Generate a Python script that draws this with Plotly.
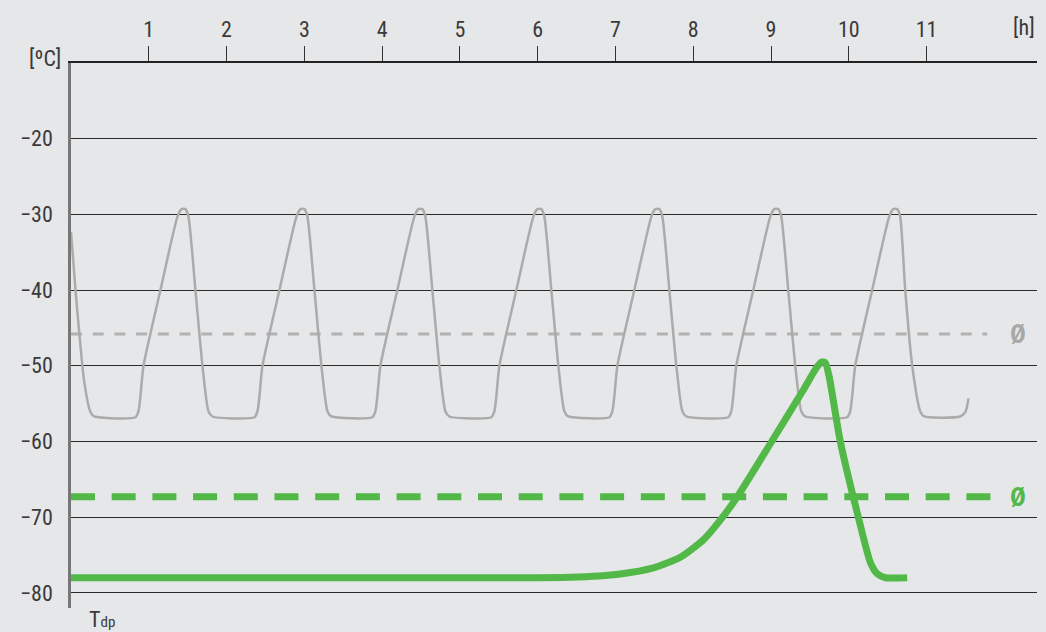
import plotly.graph_objects as go

# ---- data (hours, °C) ----
cycle_hours = [0.000, 0.058, 0.169, 0.246, 0.298,
               0.829, 0.868, 0.893, 0.932, 1.150, 1.369, 1.420, 1.472, 1.510, 1.600, 1.690, 1.767, 1.819,
               2.359, 2.398, 2.423, 2.462, 2.680, 2.899, 2.950, 3.002, 3.040, 3.130, 3.220, 3.297, 3.349,
               3.875, 3.914, 3.939, 3.978, 4.196, 4.415, 4.466, 4.518, 4.556, 4.646, 4.736, 4.813, 4.865,
               5.405, 5.444, 5.469, 5.508, 5.726, 5.945, 5.996, 6.048, 6.086, 6.176, 6.266, 6.343, 6.395,
               6.922, 6.961, 6.986, 7.025, 7.243, 7.462, 7.513, 7.565, 7.603, 7.693, 7.783, 7.860, 7.912,
               8.451, 8.490, 8.515, 8.554, 8.772, 8.991, 9.042, 9.094, 9.132, 9.222, 9.312, 9.389, 9.441,
               9.980, 10.019, 10.044, 10.083, 10.301, 10.520, 10.571, 10.623, 10.661, 10.726, 10.816, 10.918, 10.970,
               11.430, 11.500, 11.540]
cycle_temps = ([-32.3, -40.0, -52.0, -56.0, -56.7]
               + [-56.8, -56.0, -54.0, -50.0, -40.0, -30.3, -29.3, -29.3, -30.3, -40.0, -50.0, -56.0, -56.7]
               + [-56.8, -56.0, -54.0, -50.0, -40.0, -30.3, -29.3, -29.3, -30.3, -40.0, -50.0, -56.0, -56.7]
               + [-56.8, -56.0, -54.0, -50.0, -40.0, -30.3, -29.3, -29.3, -30.3, -40.0, -50.0, -56.0, -56.7]
               + [-56.8, -56.0, -54.0, -50.0, -40.0, -30.3, -29.3, -29.3, -30.3, -40.0, -50.0, -56.0, -56.7]
               + [-56.8, -56.0, -54.0, -50.0, -40.0, -30.3, -29.3, -29.3, -30.3, -40.0, -50.0, -56.0, -56.7]
               + [-56.8, -56.0, -54.0, -50.0, -40.0, -30.3, -29.3, -29.3, -30.3, -40.0, -50.0, -56.0, -56.7]
               + [-56.8, -56.0, -54.0, -50.0, -40.0, -30.3, -29.3, -29.3, -30.3, -40.0, -50.0, -56.0, -56.7]
               + [-56.7, -56.1, -54.3])

dryer_hours = [0.0, 5.906, 6.420, 7.063, 7.487, 7.834, 8.130, 8.348, 8.567, 8.991, 9.415, 9.582,
               9.647, 9.698, 9.749, 9.891, 10.123, 10.278, 10.368, 10.470, 10.751]
dryer_temps = [-78.0, -78.0, -77.95, -77.5, -76.7, -75.3, -73.0, -70.4, -67.3, -60.3, -53.2, -50.3,
               -49.5, -49.6, -51.5, -60.0, -70.0, -76.0, -77.5, -78.0, -78.0]

cycle_mean = -45.8
cycle_mean_span = [0.0, 11.78]
dryer_mean = -67.3
dryer_mean_span = [0.0, 11.86]

x_ticks = [1, 2, 3, 4, 5, 6, 7, 8, 9, 10, 11]
y_ticks = [-20, -30, -40, -50, -60, -70, -80]

GRAY = "#ababab"
GREEN = "#52b848"
BG = "#e6e7e9"
TXT = "#3a3a3a"
FONT = "Liberation Sans Narrow, Roboto Condensed, Roboto, sans-serif"

fig = go.Figure()
fig.add_trace(go.Scatter(x=cycle_mean_span, y=[cycle_mean, cycle_mean], mode="lines",
                         line=dict(color="#b2b2b2", width=3, dash="11px,10.7px"), hoverinfo="skip"))
fig.add_trace(go.Scatter(x=cycle_hours, y=cycle_temps, mode="lines",
                         line=dict(color=GRAY, width=2.5, shape="spline", smoothing=0.6), hoverinfo="skip"))
fig.add_trace(go.Scatter(x=dryer_mean_span, y=[dryer_mean, dryer_mean], mode="lines",
                         line=dict(color=GREEN, width=7, dash="24px,16.7px"), hoverinfo="skip"))
fig.add_trace(go.Scatter(x=dryer_hours, y=dryer_temps, mode="lines",
                         line=dict(color=GREEN, width=7, shape="spline", smoothing=0.6), hoverinfo="skip"))

fig.update_layout(
    width=1046, height=632,
    margin=dict(l=71, r=9, t=63, b=24),
    paper_bgcolor=BG, plot_bgcolor=BG,
    showlegend=False,
    font=dict(family=FONT, size=22, color=TXT),
    xaxis=dict(side="top", range=[0, 12.42], tickvals=x_ticks, ticks="outside", ticklen=15,
               tickcolor="#333333", tickwidth=1.2, showgrid=False, zeroline=False,
               showline=True, linecolor="#222222", linewidth=1.5,
               tickfont=dict(family=FONT, size=22, color=TXT)),
    yaxis=dict(range=[-82, -10], tickvals=y_ticks, ticks="", showgrid=True,
               gridcolor="#2a2a2a", gridwidth=1.2, zeroline=False,
               showline=True, linecolor="#777777", linewidth=2.5, ticklabelstandoff=11,
               tickfont=dict(family=FONT, size=22, color=TXT)),
)

fig.add_annotation(x=12.18, y=cycle_mean, xref="x", yref="y", text="<b>Ø</b>", showarrow=False,
                   font=dict(family=FONT, size=26, color="#a8a8a8"))
fig.add_annotation(x=12.18, y=dryer_mean, xref="x", yref="y", text="<b>Ø</b>", showarrow=False,
                   font=dict(family=FONT, size=26, color=GREEN))
fig.add_annotation(x=1037, y=27, text="[h]", showarrow=False,
                   xanchor="right", yanchor="middle", font=dict(family=FONT, size=22, color=TXT))
fig.add_annotation(x=63, y=58, text="[ºC]", showarrow=False, xanchor="right", yanchor="middle",
                   font=dict(family=FONT, size=22, color=TXT))
fig.add_annotation(x=87, y=619, text="T<span style='font-size:15px'>dp</span>", showarrow=False,
                   xanchor="left", yanchor="middle", font=dict(family=FONT, size=22, color=TXT))

# convert pixel-placed annotations to paper coordinates
W, H = 1046, 632
L, R, T, B = 71, 9, 63, 24
pw, ph = W - L - R, H - T - B
for a in fig.layout.annotations:
    if a.xref == "x":
        continue
    px, py = a.x, a.y
    a.update(xref="paper", yref="paper", x=(px - L) / pw, y=1 - (py - T) / ph)

fig.write_html("out.html", config={"displayModeBar": False},
               post_script="document.body.style.margin='0';document.body.style.overflow='hidden';")
